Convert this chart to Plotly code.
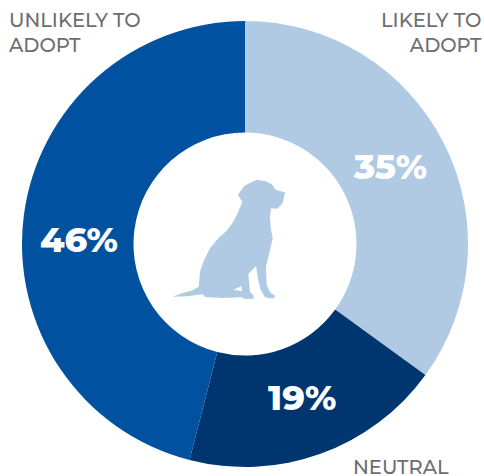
import plotly.graph_objects as go

WIDTH, HEIGHT = 484, 476

categories = ["LIKELY TO<br>ADOPT", "NEUTRAL", "UNLIKELY TO<br>ADOPT"]
shares = [35, 19, 46]
slice_colors = ["#B0CAE4", "#00366F", "#0052A0"]
GREY = "#6D6E70"
FONT = "Montserrat, Inter, sans-serif"

# Pixel anchors for the text that sits around and on the ring
share_anchors = [(390, 166), (302, 397), (79, 239)]
category_anchors = [
    (484, 33, "right"),
    (401, 467, "center"),
    (6, 33, "left"),
]

# Sitting-dog outline for the centre of the ring, in pixels
dog_outline = [
    (285.0, 192.3), (276.0, 190.0), (271.7, 184.0), (265.0, 181.0), (256.7, 180.0),
    (249.3, 183.3), (244.3, 186.0), (240.7, 190.7), (238.0, 195.0), (242.3, 201.7),
    (238.3, 211.7), (233.3, 221.7), (226.7, 230.7), (218.3, 238.3), (210.0, 248.3),
    (203.3, 261.7), (200.0, 271.7), (198.7, 286.7), (191.7, 290.7), (181.7, 293.3),
    (172.7, 296.7), (186.7, 296.3), (202.7, 294.3), (205.0, 297.0), (223.3, 298.0),
    (241.7, 297.3), (245.0, 299.0), (253.3, 298.7), (254.0, 296.0), (250.0, 291.7),
    (248.3, 274.0), (256.0, 266.0), (258.3, 280.0), (260.7, 290.0), (265.0, 297.3),
    (273.3, 298.7), (275.3, 296.0), (270.0, 292.3), (266.7, 285.0), (266.0, 266.7),
    (270.0, 250.0), (272.7, 238.3), (270.7, 228.3), (270.0, 216.7), (271.0, 208.3),
    (277.3, 208.7), (282.7, 203.3),
]
leg_gap = [(233.3, 290.0), (241.7, 286.0), (241.7, 291.0)]


def to_path(points):
    coords = [f"{x / WIDTH:.5f} {1 - y / HEIGHT:.5f}" for x, y in points]
    return "M " + " L ".join(coords) + " Z"


fig = go.Figure(
    go.Pie(
        labels=[c.replace("<br>", " ") for c in categories],
        values=shares,
        sort=False,
        direction="clockwise",
        rotation=0,
        hole=0.5,
        marker=dict(colors=slice_colors, line=dict(width=0)),
        textinfo="none",
        domain=dict(x=[22 / WIDTH, 468 / WIDTH], y=[9 / HEIGHT, 455 / HEIGHT]),
        showlegend=False,
    )
)

fig.add_shape(
    type="path",
    xref="paper",
    yref="paper",
    path=to_path(dog_outline) + " " + to_path(leg_gap),
    fillcolor="#B0CAE4",
    line=dict(width=0),
    layer="above",
)

for share, (x, y) in zip(shares, share_anchors):
    fig.add_annotation(
        x=x / WIDTH, y=1 - y / HEIGHT, xref="paper", yref="paper",
        text=f"{share}%", showarrow=False, xanchor="center", yanchor="middle",
        font=dict(family=FONT, size=35, color="white", weight=800),
    )

for label, (x, y, align) in zip(categories, category_anchors):
    fig.add_annotation(
        x=x / WIDTH, y=1 - y / HEIGHT, xref="paper", yref="paper",
        text=label, showarrow=False, align=align, xanchor=align, yanchor="middle",
        font=dict(family=FONT, size=19.5, color=GREY, weight=500),
    )

fig.update_layout(
    width=WIDTH,
    height=HEIGHT,
    margin=dict(l=0, r=0, t=0, b=0),
    paper_bgcolor="white",
    plot_bgcolor="white",
)

fig.write_html("out.html")
